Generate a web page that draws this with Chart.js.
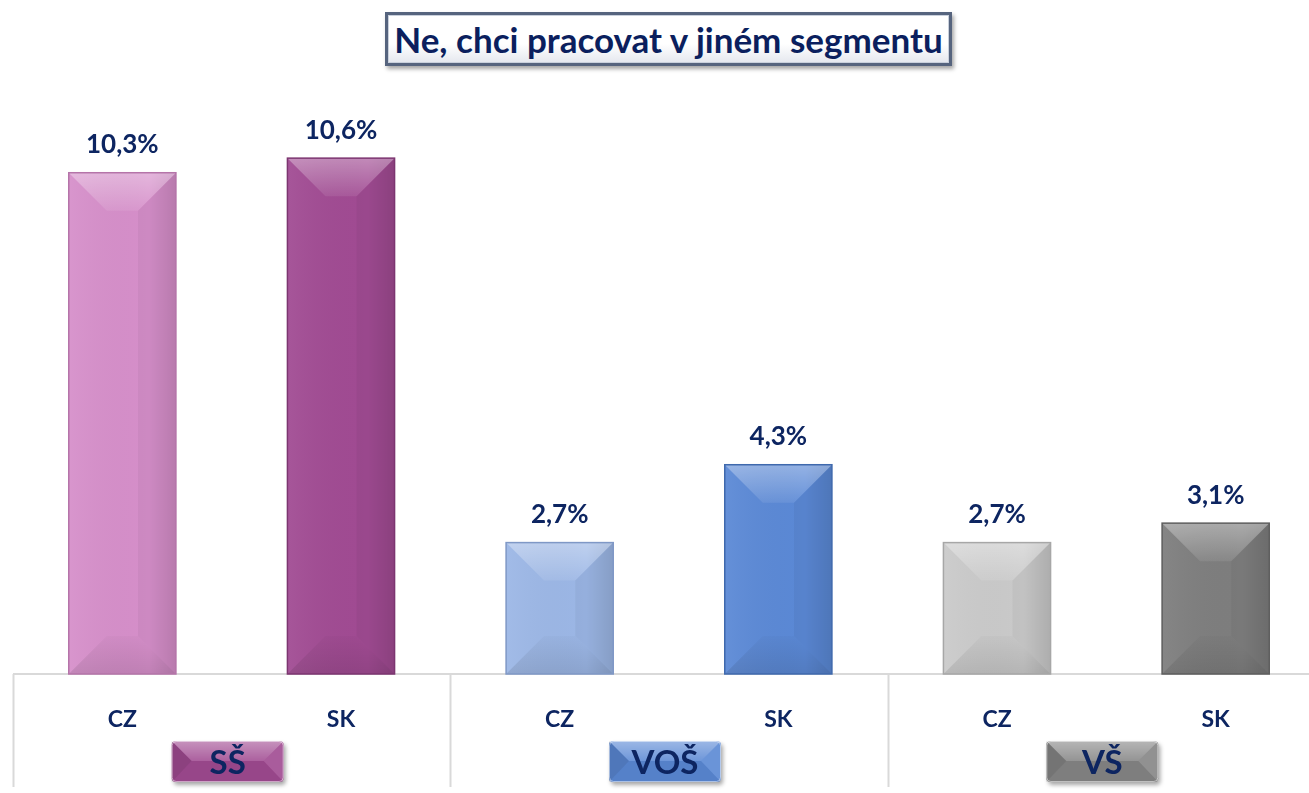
<!DOCTYPE html>
<html>
<head>
<meta charset="utf-8">
<script src="https://cdn.jsdelivr.net/npm/chart.js@4.4.1/dist/chart.umd.min.js"></script>
<style>
  html, body { margin: 0; padding: 0; background: #fff; overflow: hidden; }
  #wrap { position: relative; width: 1309px; height: 793px; overflow: hidden; }
  #chart { position: absolute; left: 0; top: 0; }
  #title {
    position: absolute; left: 385px; top: 12px; width: 561px; height: 48px;
    border: 3px solid #56647e;
    background: linear-gradient(#ffffff 0%, #ffffff 60%, #e4e7ee 100%);
    box-shadow: inset 0 0 0 1px #c9d0dc, 2px 3px 4px rgba(0,0,0,0.35);
    font: bold 35px Lato, sans-serif; color: #0b1f5e;
    text-align: center; line-height: 48px; white-space: nowrap;
  }
</style>
</head>
<body>
<div id="wrap">
  <div id="title">Ne, chci pracovat v jiném segmentu</div>
  <canvas id="chart" width="1325" height="793"></canvas>
</div>
<script>
// data
const categories = ['CZ', 'SK', 'CZ', 'SK', 'CZ', 'SK']
const groups = ['SŠ', 'VOŠ', 'VŠ']
const values = [10.3, 10.6, 2.7, 4.3, 2.7, 3.1]
const valueLabels = ['10,3%', '10,6%', '2,7%', '4,3%', '2,7%', '3,1%']

const barColors = ['#d68fca', '#a14b93', '#9cb7e6', '#5b89d6', '#cacaca', '#7e7e7e']
const barEdges = ['#b574a9', '#7c3570', '#7f98c6', '#3f69ad', '#a7a7a7', '#5e5e5e']
const groupColors = ['#a04a91', '#5a88d4', '#858585']
const navy = '#0d2561'

function poly(ctx, pts, fill) {
    ctx.beginPath()
    ctx.moveTo(pts[0][0], pts[0][1])
    for (let i = 1; i < pts.length; i++) ctx.lineTo(pts[i][0], pts[i][1])
    ctx.closePath()
    ctx.fillStyle = fill
    ctx.fill()
}

// bevel on the bars, value labels above them
const bevelPlugin = {
    id: 'bevel',
    afterDatasetsDraw(chart) {
        const ctx = chart.ctx
        const meta = chart.getDatasetMeta(0)
        meta.data.forEach((bar, i) => {
            const p = bar.getProps(['x', 'y', 'base', 'width'], true)
            const l = p.x - p.width / 2, r = p.x + p.width / 2, t = p.y, b = p.base
            const d = Math.min(38, p.width / 2, (b - t) / 2)
            ctx.save()
            // soft left-to-right shading
            const hg = ctx.createLinearGradient(l, 0, r, 0)
            hg.addColorStop(0, 'rgba(255,255,255,0.06)')
            hg.addColorStop(0.75, 'rgba(0,0,0,0)')
            hg.addColorStop(1, 'rgba(0,0,0,0.10)')
            ctx.fillStyle = hg
            ctx.fillRect(l, t, p.width, b - t)
            // top facet
            const tg = ctx.createLinearGradient(0, t, 0, t + d)
            tg.addColorStop(0, 'rgba(255,255,255,0.35)')
            tg.addColorStop(1, 'rgba(255,255,255,0.08)')
            poly(ctx, [[l, t], [r, t], [r - d, t + d], [l + d, t + d]], tg)
            poly(ctx, [[r, t], [r - d, t + d], [r - d, b - d], [r, b]], 'rgba(0,0,0,0.04)')
            const bg = ctx.createLinearGradient(0, b - d, 0, b)
            bg.addColorStop(0, 'rgba(0,0,0,0.02)')
            bg.addColorStop(1, 'rgba(0,0,0,0.10)')
            poly(ctx, [[l, b], [l + d, b - d], [r - d, b - d], [r, b]], bg)
            ctx.strokeStyle = barEdges[i]
            ctx.lineWidth = 1.5
            ctx.strokeRect(l, t, p.width, b - t)

            ctx.fillStyle = navy
            ctx.font = 'bold 26px Lato, sans-serif'
            ctx.textAlign = 'center'
            ctx.textBaseline = 'middle'
            ctx.fillText(valueLabels[i], p.x, t - 28)
            ctx.restore()
        })
    }
}

// axis line, group separators and group badges
const groupPlugin = {
    id: 'groups',
    beforeDatasetsDraw(chart) {
        const ctx = chart.ctx
        const x = chart.scales.x
        const area = chart.chartArea
        ctx.save()
        ctx.strokeStyle = '#d9d9d9'
        ctx.lineWidth = 2
        ctx.beginPath()
        ctx.moveTo(area.left, area.bottom)
        ctx.lineTo(area.right, area.bottom)
        for (let g = 0; g <= groups.length; g++) {
            let sx
            if (g === 0) sx = area.left
            else if (g === groups.length) sx = area.right
            else sx = (x.getPixelForValue(g * 2 - 1) + x.getPixelForValue(g * 2)) / 2
            sx = Math.round(sx) + 0.5
            ctx.moveTo(sx, area.bottom)
            ctx.lineTo(sx, area.bottom + 113)
        }
        ctx.stroke()
        ctx.restore()
    },
    afterDraw(chart) {
        const ctx = chart.ctx
        const x = chart.scales.x
        const area = chart.chartArea
        groups.forEach((name, g) => {
            const cx = (x.getPixelForValue(g * 2) + x.getPixelForValue(g * 2 + 1)) / 2 - 4
            const w = 112, h = 41
            const l = cx - w / 2, t = area.bottom + 67, r = l + w, b = t + h
            const d = 20
            ctx.save()
            ctx.shadowColor = 'rgba(0,0,0,0.35)'
            ctx.shadowOffsetX = 2
            ctx.shadowOffsetY = 3
            ctx.shadowBlur = 4
            ctx.beginPath()
            ctx.roundRect(l, t, w, h, 4)
            ctx.fillStyle = groupColors[g]
            ctx.fill()
            ctx.shadowColor = 'transparent'
            const tg = ctx.createLinearGradient(0, t, 0, t + d)
            tg.addColorStop(0, 'rgba(255,255,255,0.40)')
            tg.addColorStop(1, 'rgba(255,255,255,0.12)')
            poly(ctx, [[l, t], [r, t], [r - d, t + d], [l + d, t + d]], tg)
            poly(ctx, [[l, t], [l + d, t + d], [l, b]], 'rgba(0,0,0,0.12)')
            poly(ctx, [[r, t], [r - d, t + d], [r, b]], 'rgba(255,255,255,0.10)')
            poly(ctx, [[l, b], [l + d, t + d], [r - d, t + d], [r, b]], 'rgba(0,0,0,0.05)')
            ctx.strokeStyle = 'rgba(255,255,255,0.5)'
            ctx.lineWidth = 1
            ctx.beginPath()
            ctx.roundRect(l + 0.5, t + 0.5, w - 1, h - 1, 4)
            ctx.stroke()
            ctx.fillStyle = navy
            ctx.font = 'bold 33px Lato, sans-serif'
            ctx.textAlign = 'center'
            ctx.textBaseline = 'middle'
            ctx.fillText(name, cx, t + h / 2 + 2)
            ctx.restore()
        })
    }
}

const ctx = document.getElementById('chart').getContext('2d')
const chart = new Chart(ctx, {
    type: 'bar',
    data: {
        labels: categories,
        datasets: [{
            data: values,
            backgroundColor: barColors,
            borderWidth: 0,
            categoryPercentage: 1,
            barPercentage: 0.49
        }]
    },
    options: {
        responsive: false,
        animation: false,
        layout: { padding: { left: 13, right: 0, top: 90, bottom: 0 } },
        plugins: { legend: { display: false }, tooltip: { enabled: false } },
        scales: {
            x: {
                grid: { display: false },
                border: { display: false },
                ticks: {
                    color: navy,
                    font: { family: 'Lato, sans-serif', size: 23, weight: 'bold' },
                    padding: 24,
                    maxRotation: 0
                },
                afterFit(scale) { scale.height = 119 }
            },
            y: {
                display: false,
                min: 0,
                max: 12
            }
        }
    },
    plugins: [groupPlugin, bevelPlugin]
})
</script>
</body>
</html>
